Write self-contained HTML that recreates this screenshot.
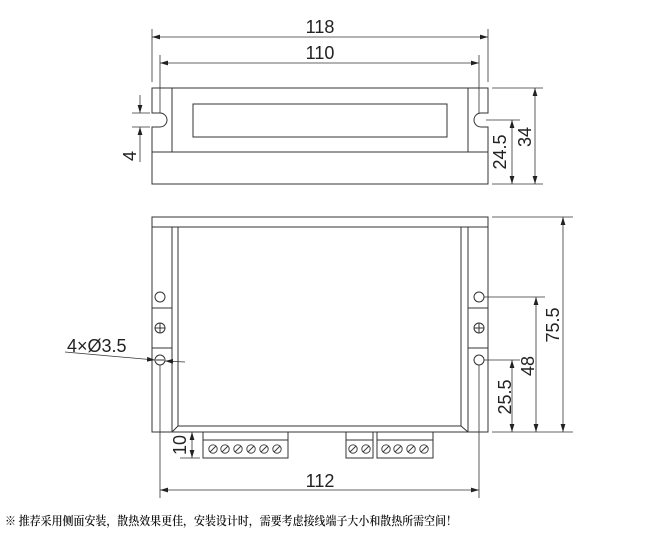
<!DOCTYPE html>
<html><head><meta charset="utf-8"><style>
html,body{margin:0;padding:0;background:#fff;}
svg{display:block;}
text{font-family:"Liberation Sans",sans-serif;fill:#222;}
</style></head><body>
<svg width="663" height="542" viewBox="0 0 663 542" xmlns="http://www.w3.org/2000/svg">
<defs>
<marker id="a" viewBox="0 0 10 6" refX="10" refY="3" markerWidth="8" markerHeight="5" orient="auto-start-reverse" markerUnits="userSpaceOnUse"><path d="M0,0 L10,3 L0,6z" fill="#222"/></marker>
</defs>
<g stroke="#333" stroke-width="1" fill="none">
<path d="M152,88 H488 V113 H481 A7,7 0 0 0 481,127 H488 V184 H152 V127 H160 A7,7 0 0 0 160,113 H152 Z"/>
<line x1="152" y1="152" x2="488" y2="152"/>
<line x1="172" y1="88" x2="172" y2="152"/>
<line x1="468" y1="88" x2="468" y2="152"/>
<rect x="193" y="104" width="254" height="33"/>
<line x1="152" y1="29" x2="152" y2="82" stroke-width="0.8"/>
<line x1="488" y1="29" x2="488" y2="82" stroke-width="0.8"/>
<line x1="152" y1="37" x2="488" y2="37" stroke-width="0.8" marker-start="url(#a)" marker-end="url(#a)"/>
<line x1="160" y1="55" x2="160" y2="113" stroke-width="0.8"/>
<line x1="479" y1="55" x2="479" y2="113" stroke-width="0.8"/>
<line x1="160" y1="63" x2="479" y2="63" stroke-width="0.8" marker-start="url(#a)" marker-end="url(#a)"/>
<line x1="132" y1="113" x2="150" y2="113" stroke-width="0.8"/>
<line x1="132" y1="127" x2="150" y2="127" stroke-width="0.8"/>
<line x1="140" y1="95" x2="140" y2="113" stroke-width="0.8" marker-end="url(#a)"/>
<line x1="140" y1="162" x2="140" y2="127" stroke-width="0.8" marker-end="url(#a)"/>
<line x1="492" y1="88" x2="543" y2="88" stroke-width="0.8"/>
<line x1="492" y1="184" x2="543" y2="184" stroke-width="0.8"/>
<line x1="486" y1="120" x2="520" y2="120" stroke-width="0.8"/>
<line x1="535" y1="88" x2="535" y2="184" stroke-width="0.8" marker-start="url(#a)" marker-end="url(#a)"/>
<line x1="512" y1="120" x2="512" y2="184" stroke-width="0.8" marker-start="url(#a)" marker-end="url(#a)"/>

<rect x="152" y="217" width="336" height="215"/>
<line x1="152" y1="227" x2="488" y2="227"/>
<line x1="172" y1="227" x2="172" y2="432"/>
<line x1="178" y1="227" x2="178" y2="426"/>
<line x1="178" y1="426" x2="461" y2="426"/>
<line x1="461" y1="227" x2="461" y2="426"/>
<line x1="468" y1="227" x2="468" y2="432"/>
<line x1="172" y1="432" x2="178" y2="426"/>
<line x1="468" y1="432" x2="461" y2="426"/>
<rect x="152" y="308" width="20" height="40"/>
<rect x="468" y="308" width="20" height="40"/>
<circle cx="160" cy="297" r="5"/>
<circle cx="160" cy="360" r="5"/>
<circle cx="479" cy="297" r="5"/>
<circle cx="479" cy="360" r="5"/>
<circle cx="160" cy="328" r="5"/>
<line x1="155" y1="328" x2="165" y2="328"/><line x1="160" y1="323" x2="160" y2="333"/>
<circle cx="479" cy="328" r="5"/>
<line x1="474" y1="328" x2="484" y2="328"/><line x1="479" y1="323" x2="479" y2="333"/>
<line x1="156" y1="360" x2="164" y2="360"/>
<rect x="203" y="432" width="85" height="26"/><line x1="203" y1="440" x2="288" y2="440"/>
<rect x="346" y="432" width="27" height="26"/><line x1="346" y1="440" x2="373" y2="440"/>
<rect x="377" y="432" width="56" height="26"/><line x1="377" y1="440" x2="433" y2="440"/>
<g stroke-width="0.9">
<circle cx="213" cy="449" r="4.2"/><line x1="210" y1="452" x2="216" y2="446"/>
<circle cx="225" cy="449" r="4.2"/><line x1="222" y1="452" x2="228" y2="446"/>
<circle cx="238" cy="449" r="4.2"/><line x1="235" y1="452" x2="241" y2="446"/>
<circle cx="251" cy="449" r="4.2"/><line x1="248" y1="452" x2="254" y2="446"/>
<circle cx="264" cy="449" r="4.2"/><line x1="261" y1="452" x2="267" y2="446"/>
<circle cx="277" cy="449" r="4.2"/><line x1="274" y1="452" x2="280" y2="446"/>
<circle cx="353" cy="449" r="4.2"/><line x1="350" y1="452" x2="356" y2="446"/>
<circle cx="366" cy="449" r="4.2"/><line x1="363" y1="452" x2="369" y2="446"/>
<circle cx="386" cy="449" r="4.2"/><line x1="383" y1="452" x2="389" y2="446"/>
<circle cx="398" cy="449" r="4.2"/><line x1="395" y1="452" x2="401" y2="446"/>
<circle cx="411" cy="449" r="4.2"/><line x1="408" y1="452" x2="414" y2="446"/>
<circle cx="424" cy="449" r="4.2"/><line x1="421" y1="452" x2="427" y2="446"/>
</g>
<line x1="160" y1="365" x2="160" y2="498" stroke-width="0.8"/>
<line x1="479" y1="365" x2="479" y2="498" stroke-width="0.8"/>
<line x1="160" y1="490" x2="479" y2="490" stroke-width="0.8" marker-start="url(#a)" marker-end="url(#a)"/>
<line x1="180" y1="458" x2="200" y2="458" stroke-width="0.8"/>
<line x1="192" y1="432" x2="192" y2="458" stroke-width="0.8" marker-start="url(#a)" marker-end="url(#a)"/>
<line x1="65" y1="352" x2="155" y2="360" stroke-width="0.8" marker-end="url(#a)"/>
<line x1="185" y1="362" x2="165" y2="361" stroke-width="0.8" marker-end="url(#a)"/>
<line x1="492" y1="217" x2="573" y2="217" stroke-width="0.8"/>
<line x1="492" y1="432" x2="573" y2="432" stroke-width="0.8"/>
<line x1="484" y1="297" x2="545" y2="297" stroke-width="0.8"/>
<line x1="484" y1="360" x2="520" y2="360" stroke-width="0.8"/>
<line x1="563" y1="217" x2="563" y2="432" stroke-width="0.8" marker-start="url(#a)" marker-end="url(#a)"/>
<line x1="536" y1="297" x2="536" y2="432" stroke-width="0.8" marker-start="url(#a)" marker-end="url(#a)"/>
<line x1="512" y1="360" x2="512" y2="432" stroke-width="0.8" marker-start="url(#a)" marker-end="url(#a)"/>
</g>
<g font-size="18">
<text x="320" y="33" text-anchor="middle">118</text>
<text x="320" y="59" text-anchor="middle">110</text>
<text x="320" y="487" text-anchor="middle">112</text>
<text x="67" y="352">4×Ø3.5</text>
<text transform="translate(136,156) rotate(-90)" text-anchor="middle">4</text>
<text transform="translate(506,152) rotate(-90)" text-anchor="middle">24.5</text>
<text transform="translate(531,137) rotate(-90)" text-anchor="middle">34</text>
<text transform="translate(559,325) rotate(-90)" text-anchor="middle">75.5</text>
<text transform="translate(534,366) rotate(-90)" text-anchor="middle">48</text>
<text transform="translate(511,397) rotate(-90)" text-anchor="middle">25.5</text>
<text transform="translate(186,445) rotate(-90)" text-anchor="middle">10</text>
</g>
<text x="5" y="525" font-size="12" textLength="452" lengthAdjust="spacingAndGlyphs" style="font-family:'Liberation Serif','Noto Serif CJK SC',serif;font-weight:600;fill:#111">※ 推荐采用侧面安装，散热效果更佳，安装设计时，需要考虑接线端子大小和散热所需空间！</text>
</svg>
</body></html>
